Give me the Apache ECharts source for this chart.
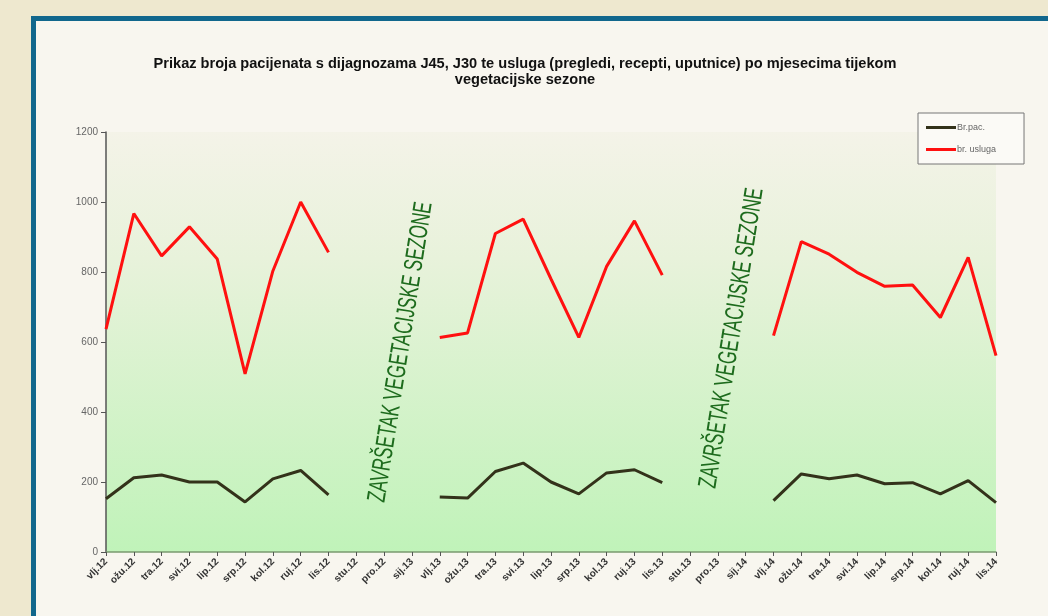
<!DOCTYPE html>
<html>
<head>
<meta charset="utf-8">
<script src="https://cdn.jsdelivr.net/npm/echarts@6/dist/echarts.min.js"></script>
<style>
html,body{margin:0;padding:0;width:1048px;height:616px;overflow:hidden;background:#eee8cf;}
#frame{position:absolute;left:31px;top:16px;width:1040px;height:620px;border:5px solid #11678c;background:#f8f6ef;}
#chart{position:absolute;left:0;top:0;width:1048px;height:616px;}
</style>
</head>
<body>
<div id="frame"></div>
<div id="chart"></div>
<script>
var categories = ['vlj.12','ožu.12','tra.12','svi.12','lip.12','srp.12','kol.12','ruj.12','lis.12','stu.12','pro.12','sij.13',
  'vlj.13','ožu.13','tra.13','svi.13','lip.13','srp.13','kol.13','ruj.13','lis.13','stu.13','pro.13','sij.14',
  'vlj.14','ožu.14','tra.14','svi.14','lip.14','srp.14','kol.14','ruj.14','lis.14'];
var brPac = [152,212,220,200,200,143,209,233,163,null,null,null,
  157,154,230,254,200,166,226,235,198,null,null,null,
  147,223,209,220,195,198,166,204,141];
var brUsluga = [637,967,846,929,837,509,803,1000,856,null,null,null,
  613,626,910,951,780,613,816,946,791,null,null,null,
  618,887,851,799,759,763,670,842,561];
var seasonNote = 'ZAVRŠETAK VEGETACIJSKE SEZONE';
var titleText = 'Prikaz broja pacijenata s dijagnozama J45, J30 te usluga (pregledi, recepti, uputnice) po mjesecima tijekom\nvegetacijske sezone';

var chart = echarts.init(document.getElementById('chart'));
var noteFont = '26px "Liberation Sans Narrow", "Arial Narrow", "Liberation Sans", sans-serif';
chart.setOption({
  backgroundColor: 'transparent',
  animation: false,
  title: {
    text: titleText,
    left: 520, top: 51, textAlign: 'center',
    textStyle: {fontFamily: 'Liberation Sans, Arial, sans-serif', fontSize: 14.6, fontWeight: 'bold', color: '#111', lineHeight: 16}
  },
  legend: {
    orient: 'vertical', left: 918, top: 113,
    padding: [10, 28, 10, 8], itemGap: 13,
    backgroundColor: '#fbfaf6', borderColor: '#777', borderWidth: 1,
    itemWidth: 30, itemHeight: 3, icon: 'rect',
    textStyle: {fontFamily: 'Liberation Sans, Arial, sans-serif', fontSize: 9, color: '#666', padding: [0, 0, 0, -4]},
    data: ['Br.pac.', 'br. usluga']
  },
  grid: {
    left: 106, right: 52, top: 132, bottom: 64, show: true, borderWidth: 0,
    backgroundColor: {type: 'linear', x: 0, y: 0, x2: 0, y2: 1, colorStops: [
      {offset: 0, color: '#f4f3e8'}, {offset: 0.3, color: '#e8f2db'}, {offset: 1, color: '#c0f3b9'}]}
  },
  xAxis: {
    type: 'category', data: categories, boundaryGap: false,
    axisLine: {lineStyle: {color: '#7a9a70', width: 1.5}},
    axisTick: {show: true, length: 4, lineStyle: {color: '#555'}},
    axisLabel: {rotate: 45, interval: 0, fontFamily: 'Liberation Sans, Arial, sans-serif', fontSize: 10, fontWeight: 'bold', color: '#333', margin: 8}
  },
  yAxis: {
    type: 'value', min: 0, max: 1200, interval: 200,
    axisLine: {show: true, lineStyle: {color: '#555', width: 1.5}},
    axisTick: {show: true, length: 5, lineStyle: {color: '#555'}},
    splitLine: {show: false},
    axisLabel: {fontFamily: 'Liberation Sans, Arial, sans-serif', fontSize: 10, color: '#666', margin: 8,
      formatter: function (v) { return String(v); }}
  },
  series: [
    {name: 'Br.pac.', type: 'line', data: brPac, showSymbol: false, symbol: 'none', connectNulls: false,
     lineStyle: {color: '#33321a', width: 3}, itemStyle: {color: '#33321a'}},
    {name: 'br. usluga', type: 'line', data: brUsluga, showSymbol: false, symbol: 'none', connectNulls: false,
     lineStyle: {color: '#ff1010', width: 3}, itemStyle: {color: '#ff1010'}}
  ],
  graphic: [
    {type: 'text', x: 401, y: 352, rotation: 81 * Math.PI / 180, scaleX: 0.65,
     style: {text: seasonNote, fill: '#1d6b1d', font: noteFont, align: 'center', verticalAlign: 'middle'}},
    {type: 'text', x: 732, y: 338, rotation: 81 * Math.PI / 180, scaleX: 0.65,
     style: {text: seasonNote, fill: '#1d6b1d', font: noteFont, align: 'center', verticalAlign: 'middle'}}
  ]
});
</script>
</body>
</html>
